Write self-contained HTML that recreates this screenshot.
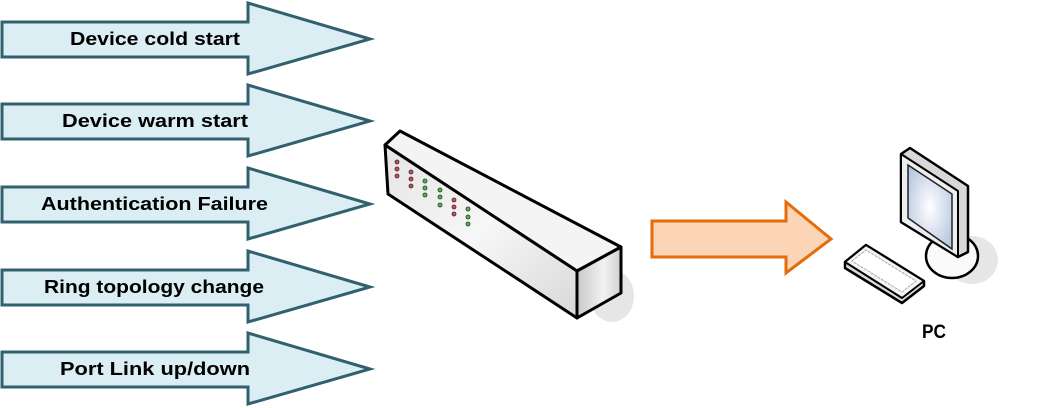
<!DOCTYPE html>
<html><head><meta charset="utf-8"><style>html,body{margin:0;padding:0;background:#fff}svg{display:block}</style></head>
<body>
<svg width="1055" height="408" viewBox="0 0 1055 408" xmlns="http://www.w3.org/2000/svg">
<defs>
<linearGradient id="front" x1="0" y1="0" x2="1" y2="1"><stop offset="0" stop-color="#e4e4e4"/><stop offset="0.5" stop-color="#f7f7f7"/><stop offset="1" stop-color="#d8d8d8"/></linearGradient>
<linearGradient id="side" x1="0" y1="0" x2="1" y2="0"><stop offset="0" stop-color="#c8c8c8"/><stop offset="0.6" stop-color="#f2f2f2"/><stop offset="1" stop-color="#d0d0d0"/></linearGradient>
<radialGradient id="scr" cx="0.5" cy="0.5" r="0.6"><stop offset="0" stop-color="#ffffff"/><stop offset="1" stop-color="#b8c8e0"/></radialGradient>
<g id="arr"><polygon points="2,22 248,22 248,3 370,39 248,74 248,57 2,57" fill="#dbeef3" stroke="#31606e" stroke-width="3" stroke-linejoin="miter"/></g>
</defs>
<g font-family="Liberation Sans, sans-serif" font-weight="bold" font-size="18" fill="#000">
<use href="#arr"/>
<text x="70" y="45" textLength="170" lengthAdjust="spacingAndGlyphs">Device cold start</text>
<use href="#arr" transform="translate(0,82)"/>
<text x="62" y="127" textLength="186" lengthAdjust="spacingAndGlyphs">Device warm start</text>
<use href="#arr" transform="translate(0,165)"/>
<text x="41" y="210" textLength="227" lengthAdjust="spacingAndGlyphs">Authentication Failure</text>
<use href="#arr" transform="translate(0,248)"/>
<text x="44" y="293" textLength="220" lengthAdjust="spacingAndGlyphs">Ring topology change</text>
<use href="#arr" transform="translate(0,330)"/>
<text x="60" y="375" textLength="190" lengthAdjust="spacingAndGlyphs">Port Link up/down</text>
<text x="922" y="338" font-size="19" textLength="24" lengthAdjust="spacingAndGlyphs">PC</text>
</g>
<!-- switch -->
<ellipse cx="612" cy="296" rx="22" ry="26" fill="#e6e6e6"/>
<polygon points="385,145 400,131 621,247 577,271" fill="#f4f4f4" stroke="#000" stroke-width="3" stroke-linejoin="round"/>
<polygon points="385,145 577,271 577,318 388,194" fill="url(#front)" stroke="#000" stroke-width="3" stroke-linejoin="round"/>
<polygon points="577,271 621,247 621,293 577,318" fill="url(#side)" stroke="#000" stroke-width="3" stroke-linejoin="round"/>
<g stroke-width="0.8" stroke="#333">
<g fill="#e04050"><circle cx="397" cy="162" r="2"/><circle cx="397" cy="169" r="2"/><circle cx="397" cy="176" r="2"/>
<circle cx="411" cy="172" r="2"/><circle cx="411" cy="179" r="2"/><circle cx="411" cy="186" r="2"/>
<circle cx="454" cy="200" r="2"/><circle cx="454" cy="207" r="2"/><circle cx="454" cy="214" r="2"/></g>
<g fill="#40c040"><circle cx="425" cy="181" r="2"/><circle cx="425" cy="188" r="2"/><circle cx="425" cy="195" r="2"/>
<circle cx="440" cy="190" r="2"/><circle cx="440" cy="197" r="2"/><circle cx="440" cy="205" r="2"/>
<circle cx="468" cy="209" r="2"/><circle cx="468" cy="217" r="2"/><circle cx="468" cy="224" r="2"/></g>
</g>
<!-- orange arrow -->
<polygon points="652,221 786,221 786,202 831,239 786,273 786,257 652,257" fill="#fbd5b5" stroke="#e46c0a" stroke-width="3"/>
<!-- PC -->
<ellipse cx="972" cy="260" rx="26" ry="24" fill="#e6e6e6"/>
<ellipse cx="952" cy="256" rx="26" ry="22" fill="#fafafa" stroke="#000" stroke-width="2.5"/>
<polygon points="901,154 910,148 968,186 968,252 958,257 901,222" fill="#d8d8d8" stroke="#000" stroke-width="2.5" stroke-linejoin="round"/>
<polygon points="901,154 958,191 958,257 901,222" fill="#eeeeee" stroke="#000" stroke-width="2" stroke-linejoin="round"/>
<polygon points="908,165 952,194 952,249 908,218" fill="url(#scr)" stroke="#222" stroke-width="1.5"/>
<polygon points="845,262 866,245 924,281 924,286 902,303 845,268" fill="#dcdcdc" stroke="#000" stroke-width="2.5" stroke-linejoin="round"/>
<polygon points="845,262 866,245 924,281 902,298" fill="#f4f4f4" stroke="#000" stroke-width="2" stroke-linejoin="round"/>
<polygon points="852,261 866,250 916,281 902,292" fill="#ffffff" stroke="#aaa" stroke-width="1" stroke-dasharray="3,1"/>
</svg>
</body></html>
